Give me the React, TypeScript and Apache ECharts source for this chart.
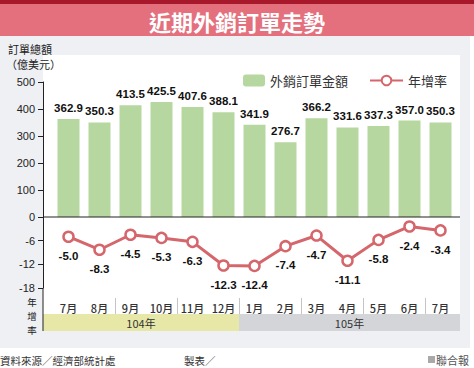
import React, { useEffect, useRef } from "react";
import * as echarts from "echarts";

const months = ["7月", "8月", "9月", "10月", "11月", "12月", "1月", "2月", "3月", "4月", "5月", "6月", "7月"];
const orders = [362.9, 350.3, 413.5, 425.5, 407.6, 388.1, 341.9, 276.7, 366.2, 331.6, 337.3, 357.0, 350.3];
const growth = [-5.0, -8.3, -4.5, -5.3, -6.3, -12.3, -12.4, -7.4, -4.7, -11.1, -5.8, -2.4, -3.4];
const years = ["104年", "105年"];
const yearMonthCounts = [6, 7];
const orderTicks = { min: 0, max: 500, interval: 100 };
const growthTicks = { min: -18, max: 0, interval: 6 };

const TITLE = "近期外銷訂單走勢";
const SERIES_BAR = "外銷訂單金額";
const SERIES_LINE = "年增率";
const GROWTH_AXIS_CHARS = ["年", "增", "率"];

const W = 474;
const H = 368;
const G_LEFT = 53;
const G_WIDTH = 403;
const AXIS_X = 43;
const PANEL_RIGHT = 460;
const TOP_A = 82;
const H_A = 135;
const ZERO_Y = TOP_A + H_A;
const H_B = 71;
const SEP_TOP = 298;
const SEP_H = 16;
const BAND_TOP = 314;
const BAND_H = 17;

const CJK = "'Noto Sans CJK TC', 'Noto Sans CJK SC', sans-serif";
const NUM = "'Liberation Sans', Arial, sans-serif";

export default function App() {
  const ref = useRef<HTMLDivElement>(null);
  useEffect(() => {
    document.body.style.margin = "0";
    const chart = echarts.init(ref.current!, null, { renderer: "svg" });
    const totalMonths = months.length;
    const bandEls: any[] = [];
    let startIdx = 0;
    years.forEach((y, i) => {
      const x0 = i === 0 ? AXIS_X : G_LEFT + (G_WIDTH * startIdx) / totalMonths;
      const endIdx = startIdx + yearMonthCounts[i];
      const x1 = i === years.length - 1 ? PANEL_RIGHT : G_LEFT + (G_WIDTH * endIdx) / totalMonths;
      bandEls.push({
        type: "rect",
        z: -5,
        shape: { x: x0, y: BAND_TOP, width: x1 - x0, height: BAND_H },
        style: { fill: i === 0 ? "#e7e8a8" : "#d4d5d8" },
      });
      bandEls.push({
        type: "text",
        z: 5,
        x: (x0 + x1) / 2,
        y: BAND_TOP + BAND_H / 2,
        style: {
          text: y,
          fontSize: 11,
          fontFamily: CJK,
          fill: "#333",
          align: "center",
          verticalAlign: "middle",
        },
      });
      startIdx = endIdx;
    });

    const verticalEls = GROWTH_AXIS_CHARS.map((c, i) => ({
      type: "text",
      z: 10,
      x: 32,
      y: 302 + i * 14,
      style: {
        text: c,
        fontSize: 9.5,
        fontFamily: CJK,
        fill: "#222",
        align: "center",
        verticalAlign: "middle",
      },
    }));

    const valueLabel = {
      show: true,
      fontSize: 11.5,
      fontWeight: "bold",
      fontFamily: NUM,
      color: "#111",
      formatter: (p: any) => Number(p.value).toFixed(1),
    };

    const option: any = {
      animation: false,
      backgroundColor: "#ffffff",
      textStyle: { fontFamily: CJK },
      grid: [
        { left: G_LEFT, top: TOP_A, width: G_WIDTH, height: H_A },
        { left: G_LEFT, top: ZERO_Y, width: G_WIDTH, height: H_B },
        { left: G_LEFT, top: SEP_TOP, width: G_WIDTH, height: SEP_H },
      ],
      xAxis: [
        {
          type: "category",
          gridIndex: 0,
          data: months,
          axisLine: { show: false },
          axisTick: { show: false },
          axisLabel: { show: false },
        },
        {
          type: "category",
          gridIndex: 1,
          data: months,
          axisLine: { show: false },
          axisTick: { show: false },
          axisLabel: {
            margin: 14,
            fontSize: 11,
            color: "#333",
            fontFamily: CJK,
            fontWeight: 500,
          },
        },
        {
          type: "category",
          gridIndex: 2,
          data: months,
          axisLine: { show: false },
          axisTick: { show: false },
          axisLabel: { show: false },
          splitLine: {
            show: true,
            showMinLine: false,
            showMaxLine: false,
            lineStyle: { color: "#c4c4c4", width: 1 },
          },
        },
      ],
      yAxis: [
        {
          type: "value",
          gridIndex: 0,
          min: orderTicks.min,
          max: orderTicks.max,
          interval: orderTicks.interval,
          offset: G_LEFT - AXIS_X,
          axisLine: { show: true, lineStyle: { color: "#222", width: 1 } },
          axisTick: { show: true, length: 5, lineStyle: { color: "#222" } },
          axisLabel: { margin: 8, fontSize: 11, color: "#222", fontFamily: NUM },
          splitLine: { show: false },
        },
        {
          type: "value",
          gridIndex: 1,
          min: growthTicks.min,
          max: growthTicks.max,
          interval: growthTicks.interval,
          offset: G_LEFT - AXIS_X,
          axisLine: { show: true, lineStyle: { color: "#222", width: 1 } },
          axisTick: { show: true, length: 5, lineStyle: { color: "#222" } },
          axisLabel: {
            margin: 8,
            fontSize: 11,
            color: "#222",
            fontFamily: NUM,
            formatter: (v: number) => (v === 0 ? "" : String(v)),
          },
          splitLine: { show: false },
        },
        {
          type: "value",
          gridIndex: 2,
          show: false,
          min: 0,
          max: 1,
        },
      ],
      legend: [
        {
          data: [SERIES_BAR],
          left: 238,
          top: 69,
          itemWidth: 22,
          itemHeight: 12,
          textStyle: { fontSize: 13, color: "#333", fontFamily: CJK },
        },
        {
          data: [SERIES_LINE],
          left: 364,
          top: 69,
          itemWidth: 33,
          itemHeight: 12,
          textStyle: { fontSize: 13, color: "#333", fontFamily: CJK },
        },
      ],
      series: [
        {
          name: SERIES_BAR,
          type: "bar",
          xAxisIndex: 0,
          yAxisIndex: 0,
          data: orders,
          barWidth: 22,
          itemStyle: { color: "#b7d7a0" },
          label: { ...valueLabel, position: "top", distance: 5 },
        },
        {
          name: SERIES_LINE,
          type: "line",
          xAxisIndex: 1,
          yAxisIndex: 1,
          data: growth,
          symbol: "circle",
          symbolSize: 10,
          lineStyle: { color: "#d5666b", width: 3 },
          itemStyle: { color: "#ffffff", borderColor: "#d5666b", borderWidth: 2.5 },
          label: { ...valueLabel, position: "bottom", distance: 7 },
        },
      ],
      graphic: [
        { type: "rect", z: -10, shape: { x: 0, y: 36, width: 470, height: 312 }, style: { fill: "#eef0f4" } },
        {
          type: "rect",
          z: -9,
          shape: { x: AXIS_X, y: 55, width: PANEL_RIGHT - AXIS_X, height: BAND_TOP - 55 },
          style: { fill: "#ffffff" },
        },
        { type: "rect", z: -8, shape: { x: 0, y: 0, width: W, height: 4 }, style: { fill: "#a8182b" } },
        { type: "rect", z: -8, shape: { x: 0, y: 4, width: W, height: 32 }, style: { fill: "#e4707e" } },
        {
          type: "text",
          z: 10,
          x: 237,
          y: 21,
          style: {
            text: TITLE,
            fontSize: 22,
            fontWeight: "bold",
            fontFamily: CJK,
            fill: "#ffffff",
            align: "center",
            verticalAlign: "middle",
          },
        },
        ...bandEls,
        {
          type: "line",
          z: 6,
          shape: { x1: AXIS_X, y1: ZERO_Y, x2: PANEL_RIGHT, y2: ZERO_Y },
          style: { stroke: "#222", lineWidth: 1 },
        },
        {
          type: "line",
          z: 6,
          shape: { x1: AXIS_X, y1: ZERO_Y + H_B, x2: AXIS_X, y2: BAND_TOP + BAND_H },
          style: { stroke: "#222", lineWidth: 1 },
        },
        {
          type: "text",
          z: 10,
          x: 8,
          y: 49,
          style: { text: "訂單總額", fontSize: 11, fontFamily: CJK, fill: "#222", verticalAlign: "middle" },
        },
        {
          type: "text",
          z: 10,
          x: 6,
          y: 64,
          style: { text: "（億美元）", fontSize: 11, fontFamily: CJK, fill: "#222", verticalAlign: "middle" },
        },
        ...verticalEls,
        {
          type: "text",
          z: 10,
          x: 0,
          y: 360,
          style: { text: "資料來源／經濟部統計處", fontSize: 10.5, fontFamily: CJK, fill: "#333", verticalAlign: "middle" },
        },
        {
          type: "text",
          z: 10,
          x: 184,
          y: 360,
          style: { text: "製表／", fontSize: 10.5, fontFamily: CJK, fill: "#333", verticalAlign: "middle" },
        },
        { type: "rect", z: 10, shape: { x: 428, y: 356, width: 7, height: 7 }, style: { fill: "#a9a9a9" } },
        {
          type: "text",
          z: 10,
          x: 436,
          y: 360,
          style: { text: "聯合報", fontSize: 11, fontFamily: CJK, fill: "#555", verticalAlign: "middle" },
        },
      ],
    };
    chart.setOption(option);
    return () => chart.dispose();
  }, []);
  return (
    <div
      ref={ref}
      style={{ position: "absolute", left: 0, top: 0, width: W, height: H }}
    />
  );
}
